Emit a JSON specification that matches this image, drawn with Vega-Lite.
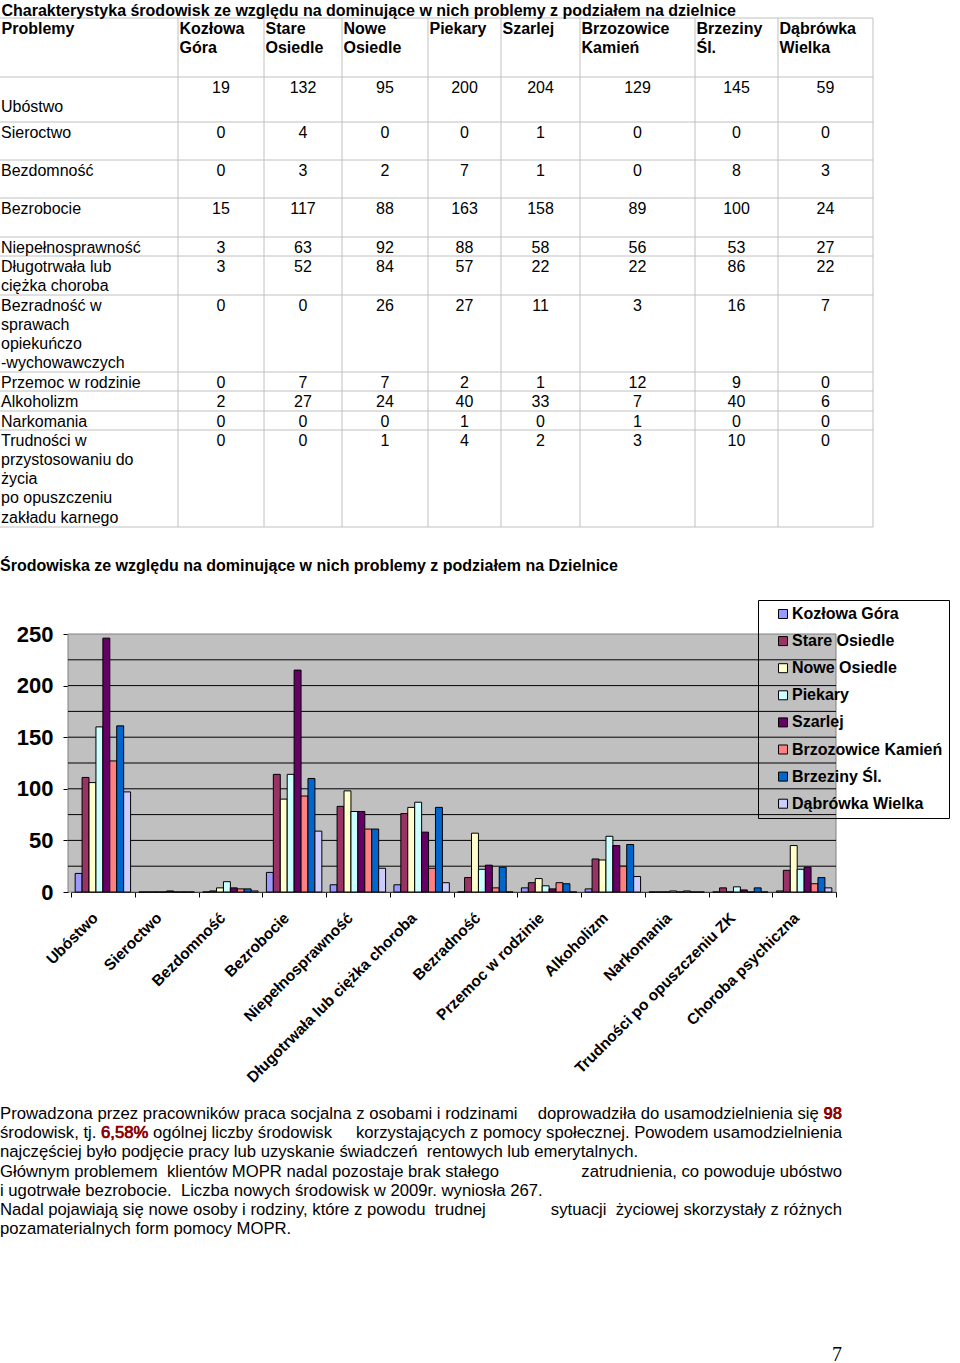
{
"$schema": "https://vega.github.io/schema/vega-lite/v6.json",
"background": "white",
"padding": {"left": -5, "top": 0, "right": 0, "bottom": 0},
"autosize": {"type": "pad"},
"bounds": "flush",
"spacing": 107,
"config": {"view": {"stroke": null}, "font": "Liberation Sans", "text": {"font": "Liberation Sans", "color": "black"}},
"datasets": {
"tableHead": [
{"r": -1, "c": 0, "text": "Charakterystyka środowisk ze względu na dominujące w nich problemy z podziałem na dzielnice"},
{"r": 0, "c": 0, "text": "Problemy"},
{"r": 0, "c": 1, "text": "Kozłowa\nGóra"},
{"r": 0, "c": 2, "text": "Stare\nOsiedle"},
{"r": 0, "c": 3, "text": "Nowe\nOsiedle"},
{"r": 0, "c": 4, "text": "Piekary"},
{"r": 0, "c": 5, "text": "Szarlej"},
{"r": 0, "c": 6, "text": "Brzozowice\nKamień"},
{"r": 0, "c": 7, "text": "Brzeziny\nŚl."},
{"r": 0, "c": 8, "text": "Dąbrówka\nWielka"}
],
"tableLabels": [
{"r": 1, "c": 0, "text": "\nUbóstwo"},
{"r": 2, "c": 0, "text": "Sieroctwo"},
{"r": 3, "c": 0, "text": "Bezdomność"},
{"r": 4, "c": 0, "text": "Bezrobocie"},
{"r": 5, "c": 0, "text": "Niepełnosprawność"},
{"r": 6, "c": 0, "text": "Długotrwała lub\nciężka choroba"},
{"r": 7, "c": 0, "text": "Bezradność w\nsprawach\nopiekuńczo\n-wychowawczych"},
{"r": 8, "c": 0, "text": "Przemoc w rodzinie"},
{"r": 9, "c": 0, "text": "Alkoholizm"},
{"r": 10, "c": 0, "text": "Narkomania"},
{"r": 11, "c": 0, "text": "Trudności w\nprzystosowaniu do\nżycia\npo opuszczeniu\nzakładu karnego"}
],
"tableCols": [{"c": 1, "top": 0, "bottom": 12}, {"c": 2, "top": 0, "bottom": 12}, {"c": 3, "top": 0, "bottom": 12}, {"c": 4, "top": 0, "bottom": 12}, {"c": 5, "top": 0, "bottom": 12}, {"c": 6, "top": 0, "bottom": 12}, {"c": 7, "top": 0, "bottom": 12}, {"c": 8, "top": 0, "bottom": 12}, {"c": 9, "top": 0, "bottom": 12}],
"tableRows": [{"r": 0, "first": 0, "last": 9}, {"r": 1, "first": 0, "last": 9}, {"r": 2, "first": 0, "last": 9}, {"r": 3, "first": 0, "last": 9}, {"r": 4, "first": 0, "last": 9}, {"r": 5, "first": 0, "last": 9}, {"r": 6, "first": 0, "last": 9}, {"r": 7, "first": 0, "last": 9}, {"r": 8, "first": 0, "last": 9}, {"r": 9, "first": 0, "last": 9}, {"r": 10, "first": 0, "last": 9}, {"r": 11, "first": 0, "last": 9}, {"r": 12, "first": 0, "last": 9}],
"tableCells": [
{"r":1,"c":1,"v":19},{"r":1,"c":2,"v":132},{"r":1,"c":3,"v":95},{"r":1,"c":4,"v":200},{"r":1,"c":5,"v":204},{"r":1,"c":6,"v":129},{"r":1,"c":7,"v":145},{"r":1,"c":8,"v":59},
{"r":2,"c":1,"v":0},{"r":2,"c":2,"v":4},{"r":2,"c":3,"v":0},{"r":2,"c":4,"v":0},{"r":2,"c":5,"v":1},{"r":2,"c":6,"v":0},{"r":2,"c":7,"v":0},{"r":2,"c":8,"v":0},
{"r":3,"c":1,"v":0},{"r":3,"c":2,"v":3},{"r":3,"c":3,"v":2},{"r":3,"c":4,"v":7},{"r":3,"c":5,"v":1},{"r":3,"c":6,"v":0},{"r":3,"c":7,"v":8},{"r":3,"c":8,"v":3},
{"r":4,"c":1,"v":15},{"r":4,"c":2,"v":117},{"r":4,"c":3,"v":88},{"r":4,"c":4,"v":163},{"r":4,"c":5,"v":158},{"r":4,"c":6,"v":89},{"r":4,"c":7,"v":100},{"r":4,"c":8,"v":24},
{"r":5,"c":1,"v":3},{"r":5,"c":2,"v":63},{"r":5,"c":3,"v":92},{"r":5,"c":4,"v":88},{"r":5,"c":5,"v":58},{"r":5,"c":6,"v":56},{"r":5,"c":7,"v":53},{"r":5,"c":8,"v":27},
{"r":6,"c":1,"v":3},{"r":6,"c":2,"v":52},{"r":6,"c":3,"v":84},{"r":6,"c":4,"v":57},{"r":6,"c":5,"v":22},{"r":6,"c":6,"v":22},{"r":6,"c":7,"v":86},{"r":6,"c":8,"v":22},
{"r":7,"c":1,"v":0},{"r":7,"c":2,"v":0},{"r":7,"c":3,"v":26},{"r":7,"c":4,"v":27},{"r":7,"c":5,"v":11},{"r":7,"c":6,"v":3},{"r":7,"c":7,"v":16},{"r":7,"c":8,"v":7},
{"r":8,"c":1,"v":0},{"r":8,"c":2,"v":7},{"r":8,"c":3,"v":7},{"r":8,"c":4,"v":2},{"r":8,"c":5,"v":1},{"r":8,"c":6,"v":12},{"r":8,"c":7,"v":9},{"r":8,"c":8,"v":0},
{"r":9,"c":1,"v":2},{"r":9,"c":2,"v":27},{"r":9,"c":3,"v":24},{"r":9,"c":4,"v":40},{"r":9,"c":5,"v":33},{"r":9,"c":6,"v":7},{"r":9,"c":7,"v":40},{"r":9,"c":8,"v":6},
{"r":10,"c":1,"v":0},{"r":10,"c":2,"v":0},{"r":10,"c":3,"v":0},{"r":10,"c":4,"v":1},{"r":10,"c":5,"v":0},{"r":10,"c":6,"v":1},{"r":10,"c":7,"v":0},{"r":10,"c":8,"v":0},
{"r":11,"c":1,"v":0},{"r":11,"c":2,"v":0},{"r":11,"c":3,"v":1},{"r":11,"c":4,"v":4},{"r":11,"c":5,"v":2},{"r":11,"c":6,"v":3},{"r":11,"c":7,"v":10},{"r":11,"c":8,"v":0}
],
"bars": [
{"problem":"Ubóstwo","district":"Kozłowa Góra","value":18},{"problem":"Ubóstwo","district":"Stare Osiedle","value":111},{"problem":"Ubóstwo","district":"Nowe Osiedle","value":106},{"problem":"Ubóstwo","district":"Piekary","value":160},{"problem":"Ubóstwo","district":"Szarlej","value":246},{"problem":"Ubóstwo","district":"Brzozowice Kamień","value":127},{"problem":"Ubóstwo","district":"Brzeziny Śl.","value":161},{"problem":"Ubóstwo","district":"Dąbrówka Wielka","value":97},
{"problem":"Sieroctwo","district":"Kozłowa Góra","value":0},{"problem":"Sieroctwo","district":"Stare Osiedle","value":0},{"problem":"Sieroctwo","district":"Nowe Osiedle","value":0},{"problem":"Sieroctwo","district":"Piekary","value":0},{"problem":"Sieroctwo","district":"Szarlej","value":1},{"problem":"Sieroctwo","district":"Brzozowice Kamień","value":0},{"problem":"Sieroctwo","district":"Brzeziny Śl.","value":0},{"problem":"Sieroctwo","district":"Dąbrówka Wielka","value":0},
{"problem":"Bezdomność","district":"Kozłowa Góra","value":0},{"problem":"Bezdomność","district":"Stare Osiedle","value":1},{"problem":"Bezdomność","district":"Nowe Osiedle","value":4},{"problem":"Bezdomność","district":"Piekary","value":10},{"problem":"Bezdomność","district":"Szarlej","value":4},{"problem":"Bezdomność","district":"Brzozowice Kamień","value":3},{"problem":"Bezdomność","district":"Brzeziny Śl.","value":3},{"problem":"Bezdomność","district":"Dąbrówka Wielka","value":1},
{"problem":"Bezrobocie","district":"Kozłowa Góra","value":19},{"problem":"Bezrobocie","district":"Stare Osiedle","value":114},{"problem":"Bezrobocie","district":"Nowe Osiedle","value":90},{"problem":"Bezrobocie","district":"Piekary","value":114},{"problem":"Bezrobocie","district":"Szarlej","value":215},{"problem":"Bezrobocie","district":"Brzozowice Kamień","value":93},{"problem":"Bezrobocie","district":"Brzeziny Śl.","value":110},{"problem":"Bezrobocie","district":"Dąbrówka Wielka","value":59},
{"problem":"Niepełnosprawność","district":"Kozłowa Góra","value":7},{"problem":"Niepełnosprawność","district":"Stare Osiedle","value":83},{"problem":"Niepełnosprawność","district":"Nowe Osiedle","value":98},{"problem":"Niepełnosprawność","district":"Piekary","value":78},{"problem":"Niepełnosprawność","district":"Szarlej","value":78},{"problem":"Niepełnosprawność","district":"Brzozowice Kamień","value":61},{"problem":"Niepełnosprawność","district":"Brzeziny Śl.","value":61},{"problem":"Niepełnosprawność","district":"Dąbrówka Wielka","value":23},
{"problem":"Długotrwała lub ciężka choroba","district":"Kozłowa Góra","value":7},{"problem":"Długotrwała lub ciężka choroba","district":"Stare Osiedle","value":76},{"problem":"Długotrwała lub ciężka choroba","district":"Nowe Osiedle","value":82},{"problem":"Długotrwała lub ciężka choroba","district":"Piekary","value":87},{"problem":"Długotrwała lub ciężka choroba","district":"Szarlej","value":58},{"problem":"Długotrwała lub ciężka choroba","district":"Brzozowice Kamień","value":23},{"problem":"Długotrwała lub ciężka choroba","district":"Brzeziny Śl.","value":82},{"problem":"Długotrwała lub ciężka choroba","district":"Dąbrówka Wielka","value":9},
{"problem":"Bezradność","district":"Kozłowa Góra","value":0},{"problem":"Bezradność","district":"Stare Osiedle","value":14},{"problem":"Bezradność","district":"Nowe Osiedle","value":57},{"problem":"Bezradność","district":"Piekary","value":22},{"problem":"Bezradność","district":"Szarlej","value":26},{"problem":"Bezradność","district":"Brzozowice Kamień","value":4},{"problem":"Bezradność","district":"Brzeziny Śl.","value":24},{"problem":"Bezradność","district":"Dąbrówka Wielka","value":0},
{"problem":"Przemoc w rodzinie","district":"Kozłowa Góra","value":4},{"problem":"Przemoc w rodzinie","district":"Stare Osiedle","value":9},{"problem":"Przemoc w rodzinie","district":"Nowe Osiedle","value":13},{"problem":"Przemoc w rodzinie","district":"Piekary","value":6},{"problem":"Przemoc w rodzinie","district":"Szarlej","value":3},{"problem":"Przemoc w rodzinie","district":"Brzozowice Kamień","value":9},{"problem":"Przemoc w rodzinie","district":"Brzeziny Śl.","value":8},{"problem":"Przemoc w rodzinie","district":"Dąbrówka Wielka","value":0},
{"problem":"Alkoholizm","district":"Kozłowa Góra","value":3},{"problem":"Alkoholizm","district":"Stare Osiedle","value":32},{"problem":"Alkoholizm","district":"Nowe Osiedle","value":31},{"problem":"Alkoholizm","district":"Piekary","value":54},{"problem":"Alkoholizm","district":"Szarlej","value":45},{"problem":"Alkoholizm","district":"Brzozowice Kamień","value":25},{"problem":"Alkoholizm","district":"Brzeziny Śl.","value":46},{"problem":"Alkoholizm","district":"Dąbrówka Wielka","value":15},
{"problem":"Narkomania","district":"Kozłowa Góra","value":0},{"problem":"Narkomania","district":"Stare Osiedle","value":0},{"problem":"Narkomania","district":"Nowe Osiedle","value":0},{"problem":"Narkomania","district":"Piekary","value":1},{"problem":"Narkomania","district":"Szarlej","value":0},{"problem":"Narkomania","district":"Brzozowice Kamień","value":1},{"problem":"Narkomania","district":"Brzeziny Śl.","value":0},{"problem":"Narkomania","district":"Dąbrówka Wielka","value":0},
{"problem":"Trudności po opuszczeniu ZK","district":"Kozłowa Góra","value":0},{"problem":"Trudności po opuszczeniu ZK","district":"Stare Osiedle","value":4},{"problem":"Trudności po opuszczeniu ZK","district":"Nowe Osiedle","value":0},{"problem":"Trudności po opuszczeniu ZK","district":"Piekary","value":5},{"problem":"Trudności po opuszczeniu ZK","district":"Szarlej","value":2},{"problem":"Trudności po opuszczeniu ZK","district":"Brzozowice Kamień","value":0},{"problem":"Trudności po opuszczeniu ZK","district":"Brzeziny Śl.","value":4},{"problem":"Trudności po opuszczeniu ZK","district":"Dąbrówka Wielka","value":0},
{"problem":"Choroba psychiczna","district":"Kozłowa Góra","value":1},{"problem":"Choroba psychiczna","district":"Stare Osiedle","value":21},{"problem":"Choroba psychiczna","district":"Nowe Osiedle","value":45},{"problem":"Choroba psychiczna","district":"Piekary","value":22},{"problem":"Choroba psychiczna","district":"Szarlej","value":24},{"problem":"Choroba psychiczna","district":"Brzozowice Kamień","value":8},{"problem":"Choroba psychiczna","district":"Brzeziny Śl.","value":14},{"problem":"Choroba psychiczna","district":"Dąbrówka Wielka","value":4}
],
"gridTicks": [{"tick": 25}, {"tick": 50}, {"tick": 75}, {"tick": 100}, {"tick": 125}, {"tick": 150}, {"tick": 175}, {"tick": 200}, {"tick": 225}],
"para": [
{"line": 1, "part": "start", "text": "\u00a0Prowadzona przez pracowników praca socjalna z osobami i rodzinami"},
{"line": 1, "part": "end", "text": "doprowadziła do usamodzielnienia się 98"},
{"line": 2, "part": "start", "text": "środowisk, tj. 6,58% ogólnej liczby środowisk"},
{"line": 2, "part": "end", "text": "korzystających z pomocy społecznej. Powodem usamodzielnienia"},
{"line": 3, "part": "start", "text": "najczęściej było podjęcie pracy lub uzyskanie świadczeń \u00a0rentowych lub emerytalnych."},
{"line": 4, "part": "start", "text": "Głównym problemem \u00a0klientów MOPR nadal pozostaje brak stałego"},
{"line": 4, "part": "end", "text": "zatrudnienia, co powoduje ubóstwo"},
{"line": 5, "part": "start", "text": "i ugotrwałe bezrobocie. \u00a0Liczba nowych środowisk w 2009r. wyniosła 267."},
{"line": 6, "part": "start", "text": "Nadal pojawiają się nowe osoby i rodziny, które z powodu \u00a0trudnej"},
{"line": 6, "part": "end", "text": "sytuacji \u00a0życiowej skorzystały z różnych"},
{"line": 7, "part": "start", "text": "pozamaterialnych form pomocy MOPR."}
],
"emph": [
{"line": 1, "part": "end", "text": "98", "lead": ""},
{"line": 2, "part": "start", "text": "środowisk, tj. 6,58%", "lead": "środowisk, tj."}
]
},
"vconcat": [
{
"width": 873, "height": 527,
"encoding": {
"y": {"field": "r", "type": "quantitative",
"scale": {"domain": [-1, 0, 1, 2, 3, 4, 5, 6, 7, 8, 9, 10, 11, 12], "range": [0, 18, 77, 122, 160, 198, 237, 256, 295, 372, 391, 411, 430, 527], "nice": false, "zero": false},
"axis": null}
},
"layer": [
{"data": {"name": "tableRows"}, "mark": {"type": "rule", "color": "#c0c0c0", "strokeWidth": 1},
"encoding": {"x": {"field": "first", "type": "quantitative", "scale": {"domain": [0, 1, 2, 3, 4, 5, 6, 7, 8, 9], "range": [0, 178, 264, 342, 428, 501, 580, 695, 778, 873], "nice": false, "zero": false}, "axis": null},
"x2": {"field": "last"}}},
{"data": {"name": "tableCols"}, "mark": {"type": "rule", "color": "#c0c0c0", "strokeWidth": 1},
"encoding": {"x": {"field": "c", "type": "quantitative", "scale": {"domain": [0, 1, 2, 3, 4, 5, 6, 7, 8, 9], "range": [0, 178, 264, 342, 428, 501, 580, 695, 778, 873], "nice": false, "zero": false}, "axis": null},
"y": {"field": "top", "type": "quantitative"}, "y2": {"field": "bottom"}}},
{"data": {"name": "tableHead"}, "mark": {"type": "text", "align": "left", "baseline": "alphabetic", "dx": 1.5, "dy": 15.5, "fontSize": 16, "fontWeight": "bold", "lineBreak": "\n", "lineHeight": 19.3},
"encoding": {"x": {"field": "c", "type": "quantitative", "scale": {"domain": [0, 1, 2, 3, 4, 5, 6, 7, 8, 9], "range": [0, 178, 264, 342, 428, 501, 580, 695, 778, 873], "nice": false, "zero": false}, "axis": null},
"text": {"field": "text", "type": "nominal"}}},
{"data": {"name": "tableLabels"}, "mark": {"type": "text", "align": "left", "baseline": "alphabetic", "dx": 1, "dy": 15.5, "fontSize": 16, "fontWeight": "normal", "lineBreak": "\n", "lineHeight": 19.3},
"encoding": {"x": {"field": "c", "type": "quantitative", "scale": {"domain": [0, 1, 2, 3, 4, 5, 6, 7, 8, 9], "range": [0, 178, 264, 342, 428, 501, 580, 695, 778, 873], "nice": false, "zero": false}, "axis": null},
"text": {"field": "text", "type": "nominal"}}},
{"data": {"name": "tableCells"}, "mark": {"type": "text", "align": "center", "baseline": "alphabetic", "dy": 15.5, "fontSize": 16},
"encoding": {"x": {"field": "c", "type": "quantitative", "scale": {"domain": [1, 2, 3, 4, 5, 6, 7, 8], "range": [221, 303, 385, 464.5, 540.5, 637.5, 736.5, 825.5], "nice": false, "zero": false}, "axis": null},
"text": {"field": "v", "type": "quantitative", "format": "d"}}}
],
"resolve": {"scale": {"x": "independent"}}
},
{
"width": 836, "height": 258,
"title": {"text": "Środowiska ze względu na dominujące w nich problemy z podziałem na Dzielnice", "anchor": "start", "frame": "group", "orient": "top", "offset": 36, "fontSize": 16, "fontWeight": "bold", "font": "Liberation Sans", "color": "black", "baseline": "alphabetic"},
"layer": [
{"data": {"values": [{}]}, "mark": {"type": "rect", "fill": "#c0c0c0", "stroke": "#808080", "strokeWidth": 1},
"encoding": {"x": {"datum": 0, "type": "quantitative", "scale": {"domain": [0, 1], "range": [68, 836], "nice": false, "zero": false}, "axis": null}, "x2": {"datum": 1},
"y": {"datum": 0, "type": "quantitative"}, "y2": {"datum": 250}}},
{"data": {"name": "gridTicks"}, "mark": {"type": "rule", "color": "black", "strokeWidth": 1},
"encoding": {"x": {"datum": 0, "type": "quantitative", "scale": {"domain": [0, 1], "range": [68, 836], "nice": false, "zero": false}, "axis": null}, "x2": {"datum": 1},
"y": {"field": "tick", "type": "quantitative"}}},
{"data": {"name": "bars"}, "mark": {"type": "bar", "stroke": "black", "strokeWidth": 1},
"encoding": {
"x": {"field": "problem", "type": "nominal",
"sort": ["Ubóstwo", "Sieroctwo", "Bezdomność", "Bezrobocie", "Niepełnosprawność", "Długotrwała lub ciężka choroba", "Bezradność", "Przemoc w rodzinie", "Alkoholizm", "Narkomania", "Trudności po opuszczeniu ZK", "Choroba psychiczna"],
"scale": {"range": [71, 836], "paddingInner": 0, "paddingOuter": 0},
"axis": {"title": null, "labelAngle": -45, "labelAlign": "right", "labelBaseline": "middle", "labelFont": "Liberation Sans", "labelFontSize": 15.5, "labelFontWeight": "bold", "labelColor": "black", "labelPadding": 18, "labelOffset": -8, "labelLimit": 400, "labelOverlap": false, "tickBand": "extent", "tickSize": 5, "tickColor": "black", "domainColor": "black", "grid": false}},
"xOffset": {"field": "district", "type": "nominal",
"sort": ["Kozłowa Góra", "Stare Osiedle", "Nowe Osiedle", "Piekary", "Szarlej", "Brzozowice Kamień", "Brzeziny Śl.", "Dąbrówka Wielka"],
"scale": {"paddingInner": 0, "paddingOuter": 0.6}},
"y": {"field": "value", "type": "quantitative", "scale": {"domain": [0, 250], "nice": false},
"axis": {"title": null, "values": [0, 25, 50, 75, 100, 125, 150, 175, 200, 225, 250], "offset": -68, "labelOverlap": false, "labelFont": "Liberation Sans", "labelFontSize": 22, "labelFontWeight": "bold", "labelColor": "black", "labelPadding": 10, "tickSize": 5, "tickColor": "black", "domainColor": "black", "grid": false}},
"color": {"field": "district", "type": "nominal",
"scale": {"domain": ["Kozłowa Góra", "Stare Osiedle", "Nowe Osiedle", "Piekary", "Szarlej", "Brzozowice Kamień", "Brzeziny Śl.", "Dąbrówka Wielka"], "range": ["#9999ff", "#993366", "#ffffcc", "#ccffff", "#660066", "#ff8080", "#0066cc", "#ccccff"]},
"legend": {"orient": "none", "legendX": 758, "legendY": 600, "title": null, "strokeColor": "black", "padding": 6, "symbolType": "square", "symbolSize": 81, "symbolStrokeColor": "black", "symbolStrokeWidth": 1, "symbolOffset": 11, "labelFont": "Liberation Sans", "labelFontSize": 16, "labelFontWeight": "bold", "labelColor": "black", "labelOffset": 1, "rowPadding": 11.1, "labelLimit": 300}}
}}
],
"resolve": {"scale": {"x": "independent"}}
},
{
"width": 842, "height": 330,
"title": {"text": "7", "orient": "bottom", "anchor": "end", "frame": "group", "font": "Liberation Serif", "fontSize": 20, "fontWeight": "normal", "color": "black", "offset": 16, "baseline": "top"},
"encoding": {"y": {"field": "line", "type": "ordinal", "scale": {"range": [105.4, 239.6], "paddingInner": 0, "paddingOuter": 0}, "axis": null}},
"layer": [
{"data": {"name": "para"}, "transform": [{"filter": "datum.part === 'start'"}],
"mark": {"type": "text", "align": "left", "baseline": "middle", "fontSize": 16.7, "color": "black"},
"encoding": {"x": {"value": 0}, "text": {"field": "text", "type": "nominal"}}},
{"data": {"name": "para"}, "transform": [{"filter": "datum.part === 'end'"}],
"mark": {"type": "text", "align": "right", "baseline": "middle", "fontSize": 16.7, "color": "black"},
"encoding": {"x": {"value": "width"}, "text": {"field": "text", "type": "nominal"}}},
{"data": {"name": "emph"}, "transform": [{"filter": "datum.part === 'start'"}],
"mark": {"type": "text", "align": "left", "baseline": "middle", "fontSize": 16.7, "fill": "#990000", "stroke": "#990000", "strokeWidth": 0.6},
"encoding": {"x": {"value": 0}, "text": {"field": "text", "type": "nominal"}}},
{"data": {"name": "emph"}, "transform": [{"filter": "datum.part === 'start'"}],
"mark": {"type": "text", "align": "left", "baseline": "middle", "fontSize": 16.7, "fill": "white", "stroke": "white", "strokeWidth": 1.8},
"encoding": {"x": {"value": 0}, "text": {"field": "lead", "type": "nominal"}}},
{"data": {"name": "emph"}, "transform": [{"filter": "datum.part === 'start'"}],
"mark": {"type": "text", "align": "left", "baseline": "middle", "fontSize": 16.7, "color": "black"},
"encoding": {"x": {"value": 0}, "text": {"field": "lead", "type": "nominal"}}},
{"data": {"name": "emph"}, "transform": [{"filter": "datum.part === 'end'"}],
"mark": {"type": "text", "align": "right", "baseline": "middle", "fontSize": 16.7, "fontWeight": "bold", "color": "#990000"},
"encoding": {"x": {"value": "width"}, "text": {"field": "text", "type": "nominal"}}}
]
}
]
}
